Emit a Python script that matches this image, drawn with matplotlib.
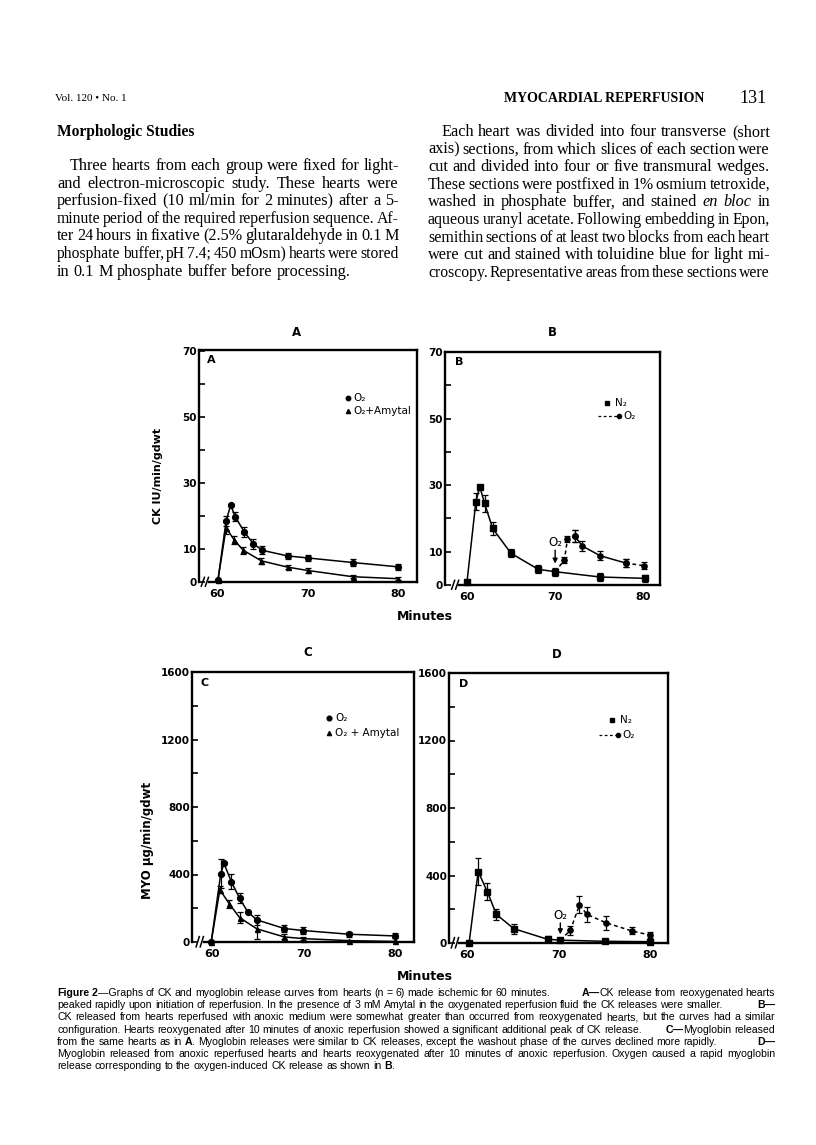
import matplotlib
matplotlib.use("Agg")
import matplotlib.pyplot as plt
from matplotlib import transforms as mtrans

# ---------------- data ----------------
X_TICKS = [60, 70, 80]
X_TICKLABELS = ["60", "70", "80"]

CK_YTICKS = [0, 10, 20, 30, 40, 50, 60, 70]
CK_YLABELS = ["0", "10", "", "30", "", "50", "", "70"]
MYO_YTICKS = [0, 200, 400, 600, 800, 1000, 1200, 1400, 1600]
MYO_YLABELS = ["0", "", "400", "", "800", "", "1200", "", "1600"]

# Panel A : CK, O2 vs O2 + Amytal
A_o2_x = [60.1, 61, 61.5, 62, 63, 64, 65, 67.8, 70, 75, 80]
A_o2_y = [0.7, 18.5, 23.3, 19.8, 15.2, 11.6, 9.6, 7.9, 7.3, 5.9, 4.6]
A_o2_e = [0, 1.5, 0, 1.4, 1.5, 1.5, 1.2, 1.0, 1.0, 1.0, 1.0]
A_am_x = [60.1, 61, 61.9, 62.9, 64.9, 67.8, 70, 75, 80]
A_am_y = [0.7, 16.4, 12.7, 9.6, 6.4, 4.5, 3.5, 1.6, 1.0]
A_am_e = [0, 2.0, 1.2, 1.0, 0.8, 0.6, 0.8, 0.5, 0.5]

# Panel B : CK, N2 vs N2 then O2
B_n2_x = [60, 61, 61.45, 62, 62.9, 65, 68.1, 70, 75.1, 80.2]
B_n2_y = [1.0, 25.0, 29.5, 24.5, 17.0, 9.5, 4.7, 4.0, 2.4, 2.0]
B_n2_e = [0, 2.5, 0, 2.5, 2.0, 1.2, 1.2, 1.2, 1.2, 1.0]
B_o2_x = [70, 71.05, 71.4, 72.2, 73.1, 75.1, 78.0, 80.1]
B_o2_y = [4.0, 7.5, 13.8, 14.8, 11.7, 8.8, 6.6, 5.8]
B_o2_e = [0, 1.0, 0.8, 1.8, 1.6, 1.4, 1.2, 1.0]

# Panel C : myoglobin, O2 vs O2 + Amytal
C_o2_x = [59.9, 60.95, 61.3, 62.1, 63, 63.9, 64.9, 67.9, 70, 75, 80]
C_o2_y = [0, 405, 466, 358, 260, 178, 131, 80, 68, 46, 36]
C_o2_e = [0, 85, 0, 45, 30, 0, 30, 20, 18, 15, 15]
C_am_x = [59.9, 60.85, 61.9, 63, 64.9, 67.9, 70, 75, 80]
C_am_y = [0, 310, 225, 145, 78, 30, 20, 8, 3]
C_am_e = [0, 20, 25, 30, 60, 15, 10, 5, 5]

# Panel D : myoglobin, N2 vs N2 then O2
D_n2_x = [60.2, 61.2, 62.2, 63.2, 65.1, 68.8, 70.2, 75.1, 80]
D_n2_y = [0, 423, 304, 169, 85, 22, 17, 10, 8]
D_n2_e = [0, 80, 50, 30, 30, 20, 15, 12, 10]
D_o2_x = [70.2, 71.3, 72.3, 73.1, 75.2, 78.0, 80.0]
D_o2_y = [17, 75, 226, 170, 120, 72, 47]
D_o2_e = [0, 25, 50, 45, 40, 20, 20]

# ---------------- page text ----------------
HEADER_LEFT = "Vol. 120 \u2022 No. 1"
HEADER_TITLE = "MYOCARDIAL REPERFUSION"
HEADER_PAGE = "131"
SECTION = "Morphologic Studies"
LEFT_COL = [
    "Three hearts from each group were fixed for light-",
    "and electron-microscopic study. These hearts were",
    "perfusion-fixed (10 ml/min for 2 minutes) after a 5-",
    "minute period of the required reperfusion sequence. Af-",
    "ter 24 hours in fixative (2.5% glutaraldehyde in 0.1 M",
    "phosphate buffer, pH 7.4; 450 mOsm) hearts were stored",
    "in 0.1 M phosphate buffer before processing.",
]
RIGHT_COL = [
    "Each heart was divided into four transverse (short",
    "axis) sections, from which slices of each section were",
    "cut and divided into four or five transmural wedges.",
    "These sections were postfixed in 1% osmium tetroxide,",
    "washed in phosphate buffer, and stained _en _bloc in",
    "aqueous uranyl acetate. Following embedding in Epon,",
    "semithin sections of at least two blocks from each heart",
    "were cut and stained with toluidine blue for light mi-",
    "croscopy. Representative areas from these sections were",
]
CAPTION = [
    "*Figure *2~\u2014Graphs of CK and myoglobin release curves from hearts (n = 6) made ischemic for 60 minutes. | *A\u2014~CK release from reoxygenated hearts",
    "peaked rapidly upon initiation of reperfusion. In the presence of 3 mM Amytal in the oxygenated reperfusion fluid the CK releases were smaller. | *B\u2014",
    "CK released from hearts reperfused with anoxic medium were somewhat greater than occurred from reoxygenated hearts, but the curves had a similar",
    "configuration. Hearts reoxygenated after 10 minutes of anoxic reperfusion showed a significant additional peak of CK release. | *C\u2014~Myoglobin released",
    "from the same hearts as in *A~. Myoglobin releases were similar to CK releases, except the washout phase of the curves declined more rapidly. | *D\u2014",
    "Myoglobin released from anoxic reperfused hearts and hearts reoxygenated after 10 minutes of anoxic reperfusion. Oxygen caused a rapid myoglobin",
    "release corresponding to the oxygen-induced CK release as shown in *B~.",
]

# ---------------- figure ----------------
W, H = 816, 1145
fig = plt.figure(figsize=(W / 100, H / 100), dpi=100)
fig.patch.set_facecolor("white")
renderer = fig.canvas.get_renderer()

SERIF = "Liberation Serif"
SANS = "Liberation Sans"


def fx(x):
    return x / W


def fy(y):
    return 1 - y / H


_mcache = {}


def measure(s, size, family, weight="normal", style="normal"):
    key = (s, round(size, 3), family, weight, style)
    if key not in _mcache:
        t = fig.text(0, 0, s, fontsize=size, family=family, weight=weight, style=style)
        _mcache[key] = t.get_window_extent(renderer=renderer).width
        t.remove()
    return _mcache[key]


def parse(line):
    words = []
    for tok in line.split(" "):
        if not tok:
            continue
        parts = []
        for p in tok.split("~"):
            w, s = "normal", "normal"
            if p.startswith("*"):
                w, p = "bold", p[1:]
            elif p.startswith("_"):
                s, p = "italic", p[1:]
            parts.append((p, w, s))
        words.append(parts)
    return words


def space_w(size, family):
    return measure("a a", size, family) - measure("aa", size, family)


def words_w(words, size, family):
    return sum(measure(p, size, family, w, s) for wd in words for p, w, s in wd)


def put_words(words, x, y, g, size, family):
    for j, wd in enumerate(words):
        if j > 0:
            x += g
        for p, w, s in wd:
            fig.text(fx(x), fy(y), p, fontsize=size, family=family, weight=w,
                     style=s, ha="left", va="baseline")
            x += measure(p, size, family, w, s)


def draw_block(lines, x0, y0, dy, width, family, size, indents, justify, min_sp=0.5):
    for i, ln in enumerate(lines):
        y = y0 + i * dy
        xs = x0 + indents[i]
        avail = width - indents[i]
        if " | " in ln:
            # left part with natural spacing, right part flush right
            left, right = ln.split(" | ")
            lw_, rw_ = parse(left), parse(right)
            sp = space_w(size, family)
            put_words(lw_, xs, y, sp, size, family)
            rwidth = words_w(rw_, size, family) + sp * (len(rw_) - 1)
            put_words(rw_, x0 + width - rwidth, y, sp, size, family)
            continue
        words = parse(ln)
        s_line = size
        gaps = len(words) - 1
        for _ in range(20):
            sp = space_w(s_line, family)
            nat = words_w(words, s_line, family) + gaps * sp
            if nat - gaps * sp * (1 - min_sp) <= avail:
                break
            s_line *= 0.99
        g = sp
        if gaps > 0 and (justify[i] or nat > avail):
            g = sp + (avail - nat) / gaps
        put_words(words, xs, y, g, s_line, family)


# header
fig.text(fx(55), fy(101), HEADER_LEFT, fontsize=8, family=SERIF, va="baseline")
fig.text(fx(504), fy(102), HEADER_TITLE, fontsize=10, family=SERIF, weight="bold",
         va="baseline")
fig.text(fx(739), fy(103), HEADER_PAGE, fontsize=13, family=SERIF, va="baseline")
fig.text(fx(57), fy(136), SECTION, fontsize=11.2, family=SERIF, weight="bold",
         va="baseline")

# body columns
BODY_SIZE = 11.7
l_ind = [13] + [0] * 6
l_just = [True] * 6 + [False]
r_ind = [13] + [0] * 8
r_just = [True] * 9
draw_block(LEFT_COL, 57, 170, 17.6, 342, SERIF, BODY_SIZE, l_ind, l_just)
draw_block(RIGHT_COL, 428, 136, 17.6, 342, SERIF, BODY_SIZE, r_ind, r_just)

# caption
CAP_SIZE = 7.6
c_ind = [0] * 7
c_just = [True] * 6 + [False]
draw_block(CAPTION, 57, 996, 12.2, 718, SANS, CAP_SIZE, c_ind, c_just)

# ---------------- chart panels ----------------
LW = 1.1


def make_ax(l, t, r, b):
    return fig.add_axes([fx(l), fy(b), (r - l) / W, (b - t) / H])


def setup(ax, xlim, ylim, yticks, ylabels, letter, lx, ly):
    ax.set_xlim(xlim)
    ax.set_ylim(ylim)
    for s in ax.spines.values():
        s.set_linewidth(1.7)
    ax.set_yticks(yticks)
    ax.set_yticklabels(ylabels, fontsize=7.5, fontweight="bold", family="DejaVu Sans")
    ax.tick_params(axis="y", direction="in", length=4, width=1.2, pad=1.5)
    ax.set_xticks(X_TICKS)
    ax.set_xticklabels(X_TICKLABELS, fontsize=8, fontweight="bold", family="DejaVu Sans")
    ax.tick_params(axis="x", length=0, pad=5)
    ax.spines["bottom"].set_bounds(59.1, xlim[1])
    tr = mtrans.blended_transform_factory(ax.transData, ax.transAxes)
    for x1 in (58.25, 58.7):
        ax.plot([x1, x1 + 0.35], [-0.018, 0.02], color="k", lw=1.1, transform=tr,
                clip_on=False)
    ax.text(lx, ly, letter, transform=ax.transAxes, fontsize=8, fontweight="bold",
            va="center", ha="left")


def series(ax, x, y, e, marker, ms, ls="-", dashes=None):
    kw = dict(color="k", lw=LW, marker=marker, ms=ms, mfc="k", mec="k", zorder=3,
              clip_on=False)
    if dashes is not None:
        ln, = ax.plot(x, y, ls="--", **kw)
        ln.set_dashes(dashes)
    else:
        ax.plot(x, y, ls=ls, **kw)
    ax.errorbar(x, y, yerr=e, fmt="none", ecolor="k", elinewidth=0.9, capsize=2.2,
                capthick=0.9, zorder=2)


def legend_item(ax, x, y, marker, ms, text, tx, dash_from=None):
    if dash_from is not None:
        ax.plot([dash_from, x], [y, y], color="k", lw=0.9, ls=(0, (2.2, 2.0)),
                transform=ax.transAxes)
    ax.plot([x], [y], marker=marker, ms=ms, color="k", ls="none",
            transform=ax.transAxes)
    ax.text(tx, y, text, transform=ax.transAxes, fontsize=7.5, va="center", ha="left")


# Panel A
axA = make_ax(199, 350, 417, 582)
setup(axA, (58.0, 82.1), (0, 70.3), CK_YTICKS, CK_YLABELS, "A", 0.035, 0.955)
series(axA, A_o2_x, A_o2_y, A_o2_e, "o", 4.2)
series(axA, A_am_x, A_am_y, A_am_e, "^", 3.6)
legend_item(axA, 0.685, 0.795, "o", 3.2, "O\u2082", 0.71)
legend_item(axA, 0.685, 0.735, "^", 3.0, "O\u2082+Amytal", 0.71)

# Panel B
axB = make_ax(445, 352, 660, 585)
setup(axB, (57.5, 81.9), (0, 70), CK_YTICKS, CK_YLABELS, "B", 0.045, 0.955)
series(axB, B_n2_x, B_n2_y, B_n2_e, "s", 3.8)
series(axB, B_o2_x[:4], B_o2_y[:4], B_o2_e[:4], "o", 3.8, dashes=(2.5, 2.0))
series(axB, B_o2_x[3:7], B_o2_y[3:7], B_o2_e[3:7], "o", 3.8)
series(axB, B_o2_x[6:], B_o2_y[6:], B_o2_e[6:], "o", 3.8, dashes=(2.5, 2.0))
axB.annotate("", xy=(70, 5.6), xytext=(70, 11.3),
             arrowprops=dict(arrowstyle="-|>", color="k", lw=1.0, mutation_scale=7))
axB.text(70, 12.7, "O\u2082", fontsize=8.5, ha="center", va="center")
legend_item(axB, 0.755, 0.78, "s", 3.0, "N\u2082", 0.79)
legend_item(axB, 0.81, 0.725, "o", 3.0, "O\u2082", 0.83, dash_from=0.71)

# Panel C
axC = make_ax(192, 672, 414, 942)
setup(axC, (57.8, 82.1), (0, 1600), MYO_YTICKS, MYO_YLABELS, "C", 0.04, 0.96)
series(axC, C_o2_x, C_o2_y, C_o2_e, "o", 4.2)
series(axC, C_am_x, C_am_y, C_am_e, "^", 3.6)
legend_item(axC, 0.617, 0.83, "o", 3.4, "O\u2082", 0.645)
legend_item(axC, 0.617, 0.774, "^", 3.0, "O\u2082 + Amytal", 0.645)

# Panel D
axD = make_ax(449, 673, 668, 943)
setup(axD, (58.0, 82.0), (0, 1600), MYO_YTICKS, MYO_YLABELS, "D", 0.045, 0.96)
series(axD, D_n2_x, D_n2_y, D_n2_e, "s", 3.8)
series(axD, D_o2_x, D_o2_y, D_o2_e, "o", 3.8, dashes=(2.5, 2.0))
axD.annotate("", xy=(70.2, 35), xytext=(70.2, 135),
             arrowprops=dict(arrowstyle="-|>", color="k", lw=1.0, mutation_scale=7))
axD.text(70.2, 165, "O\u2082", fontsize=8.5, ha="center", va="center")
legend_item(axD, 0.745, 0.826, "s", 3.0, "N\u2082", 0.78)
legend_item(axD, 0.77, 0.77, "o", 3.0, "O\u2082", 0.79, dash_from=0.685)

# panel titles, axis labels
for txt, x, y in (("A", 296, 333), ("B", 552, 333), ("C", 308, 653), ("D", 557, 655)):
    fig.text(fx(x), fy(y), txt, fontsize=8.5, fontweight="bold", ha="center",
             va="center")
fig.text(fx(158), fy(476), "CK IU/min/gdwt", rotation=90, ha="center", va="center",
         fontsize=8, fontweight="bold")
fig.text(fx(148), fy(840), "MYO \u00b5g/min/gdwt", rotation=90, ha="center",
         va="center", fontsize=8.5, fontweight="bold")
fig.text(fx(425), fy(617), "Minutes", ha="center", va="center", fontsize=9,
         fontweight="bold")
fig.text(fx(425), fy(976), "Minutes", ha="center", va="center", fontsize=9,
         fontweight="bold")

fig.savefig("out.png", dpi=100, facecolor="white")
